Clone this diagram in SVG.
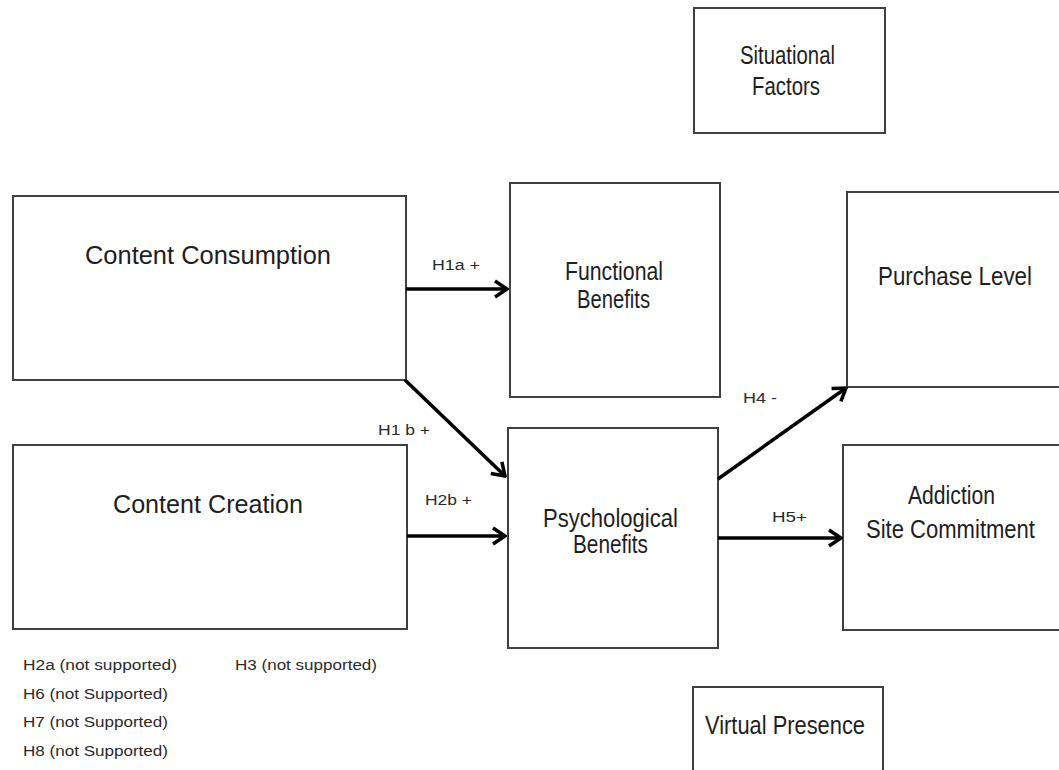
<svg xmlns="http://www.w3.org/2000/svg" width="1059" height="770" viewBox="0 0 1059 770">
  <style>
    .box { fill: #ffffff; stroke: #404040; stroke-width: 2; }
    .lbl { font-family: "Liberation Sans", Arial, sans-serif; font-size: 25px; fill: #1e1e1e; text-anchor: start; }
    .sm { font-family: "Liberation Sans", Arial, sans-serif; font-size: 14px; fill: #2a2a2a; }
    .arr { stroke: #000000; stroke-width: 3.5; fill: none; marker-end: url(#chev); }
  </style>
  <defs>
    <marker id="chev" markerUnits="userSpaceOnUse" viewBox="0 0 16 20" refX="14" refY="10" markerWidth="16" markerHeight="20" orient="auto">
      <path d="M2,2 L14,10 L2,18" fill="none" stroke="#000000" stroke-width="3.5" stroke-linejoin="miter"/>
    </marker>
  </defs>
  <rect width="1059" height="770" fill="#ffffff"/>

  <g id="situational-factors">
    <rect class="box" x="694" y="8" width="191" height="125"/>
    <text class="lbl" x="740" y="64" textLength="95" lengthAdjust="spacingAndGlyphs">Situational</text>
    <text class="lbl" x="752" y="95" textLength="68" lengthAdjust="spacingAndGlyphs">Factors</text>
  </g>

  <g id="content-consumption">
    <rect class="box" x="13" y="196" width="393" height="184"/>
    <text class="lbl" x="85" y="264" textLength="246" lengthAdjust="spacingAndGlyphs">Content  Consumption</text>
  </g>

  <g id="content-creation">
    <rect class="box" x="13" y="445" width="394" height="184"/>
    <text class="lbl" x="113" y="513" textLength="190" lengthAdjust="spacingAndGlyphs">Content  Creation</text>
  </g>

  <g id="functional-benefits">
    <rect class="box" x="510" y="183" width="210" height="214"/>
    <text class="lbl" x="565" y="280" textLength="98" lengthAdjust="spacingAndGlyphs">Functional</text>
    <text class="lbl" x="577" y="308" textLength="73" lengthAdjust="spacingAndGlyphs">Benefits</text>
  </g>

  <g id="psychological-benefits">
    <rect class="box" x="508" y="428" width="210" height="220"/>
    <text class="lbl" x="543" y="527" textLength="135" lengthAdjust="spacingAndGlyphs">Psychological</text>
    <text class="lbl" x="573" y="553" textLength="75" lengthAdjust="spacingAndGlyphs">Benefits</text>
  </g>

  <g id="purchase-level">
    <rect class="box" x="847" y="192" width="220" height="195"/>
    <text class="lbl" x="878" y="285" textLength="154" lengthAdjust="spacingAndGlyphs">Purchase  Level</text>
  </g>

  <g id="addiction-site-commitment">
    <rect class="box" x="843" y="445" width="224" height="185"/>
    <text class="lbl" x="908" y="504" textLength="87" lengthAdjust="spacingAndGlyphs">Addiction</text>
    <text class="lbl" x="866" y="538" textLength="169" lengthAdjust="spacingAndGlyphs">Site  Commitment</text>
  </g>

  <g id="virtual-presence">
    <rect class="box" x="693" y="687" width="190" height="95"/>
    <text class="lbl" x="705" y="734" textLength="160" lengthAdjust="spacingAndGlyphs">Virtual  Presence</text>
  </g>

  <g id="connectors">
    <line class="arr" x1="406" y1="289" x2="507" y2="289"/>
    <line class="arr" x1="405" y1="380" x2="505" y2="476"/>
    <line class="arr" x1="407" y1="536" x2="505" y2="536"/>
    <line class="arr" x1="718" y1="479" x2="846" y2="388"/>
    <line class="arr" x1="718" y1="538" x2="841" y2="538"/>
    <text class="sm" x="432" y="270" textLength="48" lengthAdjust="spacingAndGlyphs">H1a  +</text>
    <text class="sm" x="378" y="435" textLength="52" lengthAdjust="spacingAndGlyphs">H1 b +</text>
    <text class="sm" x="425" y="505" textLength="47" lengthAdjust="spacingAndGlyphs">H2b  +</text>
    <text class="sm" x="743" y="403" textLength="34" lengthAdjust="spacingAndGlyphs">H4  -</text>
    <text class="sm" x="772" y="522" textLength="35" lengthAdjust="spacingAndGlyphs">H5+</text>
  </g>

  <g id="notes">
    <text class="sm" x="23" y="670" textLength="154" lengthAdjust="spacingAndGlyphs">H2a  (not  supported)</text>
    <text class="sm" x="23" y="699" textLength="145" lengthAdjust="spacingAndGlyphs">H6  (not  Supported)</text>
    <text class="sm" x="23" y="727" textLength="145" lengthAdjust="spacingAndGlyphs">H7  (not  Supported)</text>
    <text class="sm" x="23" y="756" textLength="145" lengthAdjust="spacingAndGlyphs">H8  (not  Supported)</text>
    <text class="sm" x="235" y="670" textLength="142" lengthAdjust="spacingAndGlyphs">H3  (not  supported)</text>
  </g>
</svg>
